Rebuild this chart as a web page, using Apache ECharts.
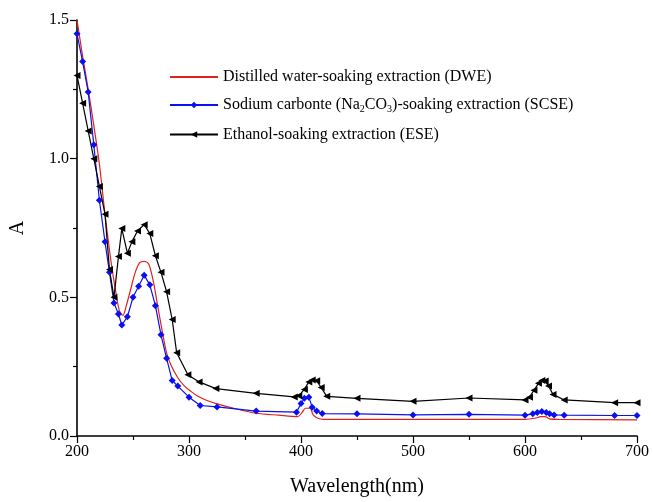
<!DOCTYPE html>
<html>
<head>
<meta charset="utf-8">
<script src="https://cdn.jsdelivr.net/npm/echarts@6/dist/echarts.min.js"></script>
<style>
html,body{margin:0;padding:0;background:#fff;}
#chart{width:653px;height:502px;}
</style>
</head>
<body>
<div id="chart"></div>
<script>
// ---- Data ----
const seriesNames = [
  'Distilled water-soaking extraction (DWE)',
  'Sodium carbonte (Na2CO3)-soaking extraction (SCSE)',
  'Ethanol-soaking extraction (ESE)'
];
const xTicks = [200, 300, 400, 500, 600, 700];
const yTicks = [0.0, 0.5, 1.0, 1.5];

const dweX = [200,205,210,215,220,225,230,235,238,241,244,248,252,256,260,264,268,272,276,280,284,290,296,302,308,315,325,340,360,380,397,401,404,408,411,415,420,450,500,550,600,610,614,618,622,630,700];
const dweY = [1.50,1.37,1.25,1.12,0.98,0.80,0.64,0.51,0.45,0.435,0.47,0.53,0.59,0.625,0.63,0.62,0.56,0.47,0.38,0.30,0.255,0.21,0.18,0.16,0.143,0.13,0.116,0.10,0.082,0.075,0.07,0.085,0.10,0.10,0.075,0.064,0.06,0.06,0.06,0.06,0.06,0.065,0.07,0.07,0.062,0.06,0.058];

const scseX = [200,205,210,215,220,225,229,233,237,240,245,250,255,260,265,270,275,280,285,290,300,310,325,360,396,400,403,407,410,414,419,450,500,550,600,607,611,615,619,622,626,635,680,700];
const scseY = [1.45,1.35,1.24,1.05,0.85,0.70,0.59,0.48,0.44,0.40,0.43,0.50,0.54,0.58,0.545,0.47,0.365,0.28,0.20,0.18,0.14,0.11,0.105,0.09,0.086,0.117,0.136,0.14,0.104,0.09,0.081,0.08,0.076,0.078,0.075,0.08,0.085,0.088,0.085,0.08,0.076,0.075,0.074,0.074];

const eseX = [200,205,210,215,220,225,229,233,237,240,245,249,254,260,265,270,275,280,285,289,299,309,324,360,394,398,403,407,410,414,418,423,450,500,550,600,604,608,612,615,618,621,625,635,680,700];
const eseY = [1.30,1.20,1.10,1.00,0.90,0.80,0.60,0.50,0.647,0.748,0.659,0.70,0.739,0.762,0.73,0.65,0.59,0.52,0.42,0.30,0.221,0.195,0.171,0.154,0.141,0.145,0.168,0.195,0.202,0.199,0.175,0.143,0.136,0.125,0.137,0.13,0.14,0.165,0.19,0.20,0.198,0.18,0.15,0.13,0.12,0.12];

function pairs(xs, ys){ return xs.map((x,i)=>[x, ys[i]]); }

const FONT = '"Liberation Serif", "Times New Roman", serif';
const chart = echarts.init(document.getElementById('chart'), null, {renderer:'canvas'});

const axisCommon = {
  axisLine:{show:true, onZero:false, lineStyle:{color:'#000', width:1.6}},
  axisTick:{show:true, inside:false, length:7, lineStyle:{color:'#000', width:1.2}},
  minorTick:{show:true, splitNumber:2, length:4, lineStyle:{color:'#000', width:1.2}},
  splitLine:{show:false},
  axisLabel:{color:'#000', fontFamily:FONT, fontSize:16},
  nameTextStyle:{color:'#000', fontFamily:FONT, fontSize:20}
};

const RED = '#e0201c', BLUE = '#0a10ee', BLACK = '#000';

chart.setOption({
  backgroundColor:'#fff',
  animation:false,
  grid:{left:76, right:16, top:20, bottom:63, containLabel:false},
  legend:{
    orient:'vertical', left:164, top:64, itemGap:12,
    itemWidth:48, itemHeight:8,
    textStyle:{color:'#000', fontFamily:FONT, fontSize:16,
      rich:{
        sub:{fontFamily:FONT, fontSize:10, color:'#000', padding:[9,0,0,0]}
      }
    },
    formatter:function(name){
      if(name.indexOf('Na2CO3')>=0){
        return 'Sodium carbonte (Na{sub|2}CO{sub|3})-soaking extraction (SCSE)';
      }
      return name;
    },
    data:[
      {name:seriesNames[0], itemStyle:{opacity:0}},
      seriesNames[1],
      seriesNames[2]
    ]
  },
  xAxis:Object.assign({}, axisCommon, {
    type:'value', min:xTicks[0], max:xTicks[xTicks.length-1], interval:100,
    name:'Wavelength(nm)', nameLocation:'middle', nameGap:41,
    axisLabel:Object.assign({}, axisCommon.axisLabel, {margin:8})
  }),
  yAxis:Object.assign({}, axisCommon, {
    type:'value', min:yTicks[0], max:yTicks[yTicks.length-1], interval:0.5,
    name:'A', nameLocation:'middle', nameGap:49, nameRotate:90,
    axisLabel:Object.assign({}, axisCommon.axisLabel, {margin:8, formatter:v=>v.toFixed(1)})
  }),
  series:[
    {name:seriesNames[0], type:'line', data:pairs(dweX,dweY), smooth:0.3,
     showSymbol:false, symbol:'circle', symbolSize:1, color:RED, lineStyle:{width:1.2, color:RED}},
    {name:seriesNames[1], type:'line', data:pairs(scseX,scseY),
     symbol:'diamond', symbolSize:7, color:BLUE,
     lineStyle:{width:1.2, color:BLUE}, itemStyle:{color:BLUE}},
    {name:seriesNames[2], type:'line', data:pairs(eseX,eseY),
     symbol:'triangle', symbolRotate:90, symbolSize:7, color:BLACK,
     lineStyle:{width:1.2, color:BLACK}, itemStyle:{color:BLACK}}
  ]
});
</script>
</body>
</html>
